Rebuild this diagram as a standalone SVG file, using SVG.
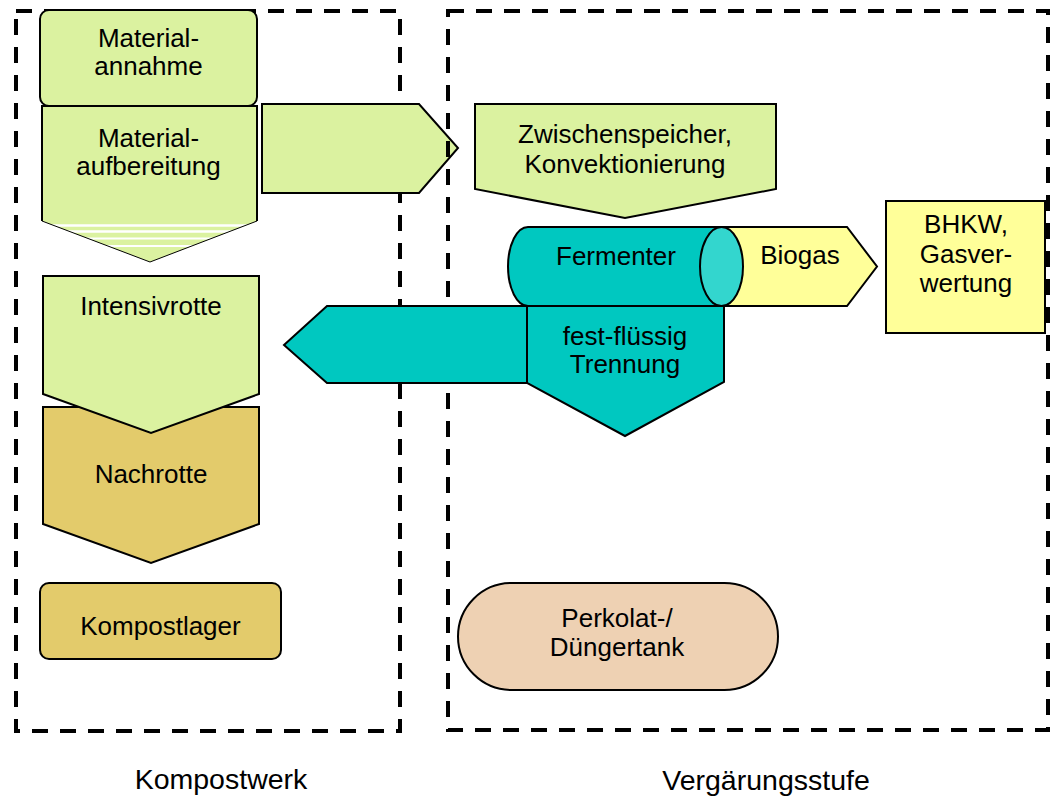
<svg xmlns="http://www.w3.org/2000/svg" width="1055" height="796" viewBox="0 0 1055 796">
<style>
text{font-family:"Liberation Sans",Arial,sans-serif;font-size:26px;fill:#000;text-anchor:middle}
.big{font-size:28.5px}
.s{stroke:#000;stroke-width:2;stroke-linejoin:miter}
.green{fill:#DBF2A0}
.tan{fill:#E3CB6B}
.teal{fill:#00C8C0}
.teal2{fill:#33D6CE}
.yel{fill:#FFFF99}
.peach{fill:#EED1B3}
.dash{fill:none;stroke:#000;stroke-width:4;stroke-dasharray:16 12}
</style>
<defs>
<clipPath id="chev"><polygon points="42,221 257,221 150,262"/></clipPath>
</defs>
<rect width="1055" height="796" fill="#fff"/>
<g id="kompostwerk-box">
<rect class="dash" x="16" y="11" width="384" height="720"/>
</g>
<g id="connectors">
<polygon id="arrow-material" class="green s" points="262,104 419,104 458,148 419,193 262,193"/>
</g>
<g id="vergaerung-box">
<rect class="dash" x="448" y="11" width="600" height="719"/>
</g>
<g id="materialannahme">
<rect class="green s" x="40" y="10" width="217" height="96" rx="9"/>
<text x="148.5" y="47">Material-</text>
<text x="148.5" y="75">annahme</text>
</g>
<g id="materialaufbereitung">
<polygon class="green" points="42,106 257,106 257,221 150,262 42,221"/>
<g clip-path="url(#chev)" stroke="#fff">
<line x1="40" y1="225.5" x2="260" y2="225.5" stroke-width="2.5"/>
<line x1="40" y1="231.5" x2="260" y2="231.5" stroke-width="2.5"/>
<line x1="40" y1="238.5" x2="260" y2="238.5" stroke-width="2"/>
<line x1="40" y1="246" x2="260" y2="246" stroke-width="2"/>
</g>
<polyline class="s" fill="none" points="42,221 42,106 257,106 257,221"/>
<polyline fill="none" stroke="#000" stroke-width="1" points="42,221 150,262 257,221"/>
<text x="148.5" y="147">Material-</text>
<text x="148.5" y="175">aufbereitung</text>
</g>
<g id="nachrotte">
<polygon class="tan s" points="43,407 259,407 259,524 151,563 43,524"/>
<text x="151" y="483">Nachrotte</text>
</g>
<g id="intensivrotte">
<polygon class="green s" points="43,276 259,276 259,394 151,433 43,394"/>
<text x="151" y="315">Intensivrotte</text>
</g>
<g id="kompostlager">
<rect class="tan s" x="40" y="583" width="241" height="76" rx="9"/>
<text x="160.5" y="635">Kompostlager</text>
</g>
<g id="zwischenspeicher">
<polygon class="green s" points="475,104 776,104 776,189 625,218 475,189"/>
<text x="625" y="143">Zwischenspeicher,</text>
<text x="625" y="173">Konvektionierung</text>
</g>
<g id="biogas">
<polygon class="yel s" points="722,227 847,227 877,266.5 847,306 722,306"/>
<text x="800" y="264">Biogas</text>
</g>
<g id="fermenter">
<path class="teal s" d="M722,227 L528,227 A20,39.5 0 0 0 528,306 L722,306 Z"/>
<ellipse class="teal2 s" cx="721.5" cy="266.5" rx="21.5" ry="39.5"/>
<text x="616" y="265">Fermenter</text>
</g>
<g id="arrow-ruecklauf">
<polygon class="teal s" points="527,306 327,306 284,345 327,383 527,383"/>
</g>
<g id="fest-fluessig-trennung">
<polygon class="teal s" points="527,306 724,306 724,382 625,436 527,383"/>
<text x="625" y="345">fest-flüssig</text>
<text x="625" y="373">Trennung</text>
</g>
<g id="bhkw">
<rect class="yel s" x="886" y="201" width="159" height="132"/>
<text x="966" y="233">BHKW,</text>
<text x="966" y="263">Gasver-</text>
<text x="966" y="292">wertung</text>
</g>
<g id="perkolattank">
<rect class="peach s" x="458" y="583" width="320" height="107" rx="53.5"/>
<text x="617" y="627">Perkolat-/</text>
<text x="617" y="656">Düngertank</text>
</g>
<g id="labels">
<text class="big" x="221" y="789">Kompostwerk</text>
<text class="big" x="766" y="790">Vergärungsstufe</text>
</g>
</svg>
